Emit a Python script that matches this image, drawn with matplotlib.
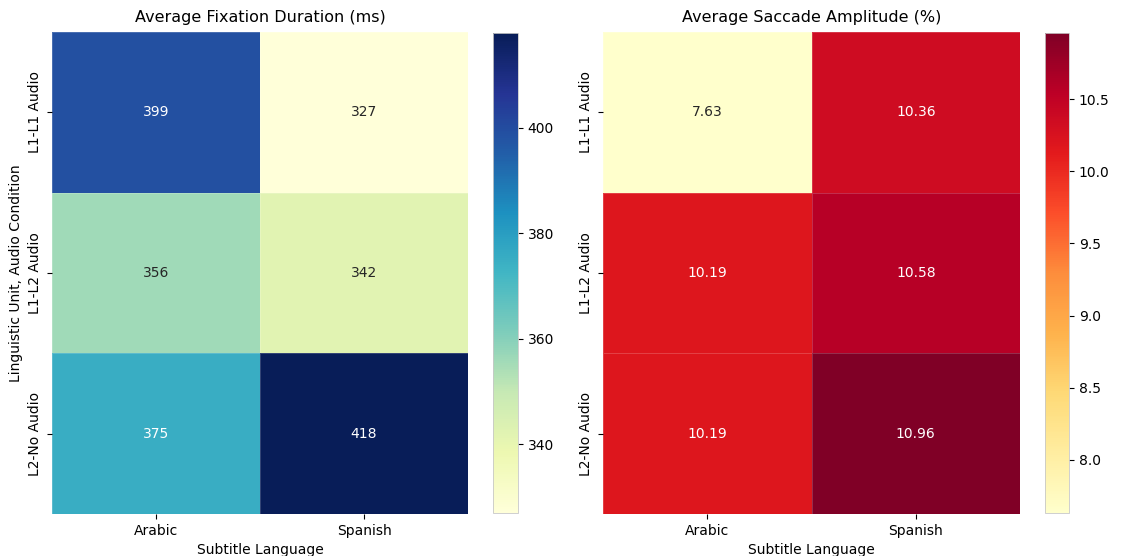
import matplotlib
matplotlib.use("Agg")
import matplotlib.pyplot as plt
import numpy as np
import seaborn as sns

subtitle_languages = ["Arabic", "Spanish"]
conditions = ["L1-L1 Audio", "L1-L2 Audio", "L2-No Audio"]
fixation_duration = [[399, 327],
                     [356, 342],
                     [375, 418]]
saccade_amplitude = [[7.63, 10.36],
                     [10.19, 10.58],
                     [10.19, 10.96]]

W, H = 1123, 556
fig = plt.figure(figsize=(W / 100, H / 100), dpi=100)

def box(x0, x1, y0, y1):
    return [x0 / W, 1 - y1 / H, (x1 - x0) / W, (y1 - y0) / H]

ax1 = fig.add_axes(box(52, 468, 32, 514))
cax1 = fig.add_axes(box(493, 518, 33, 513))
ax2 = fig.add_axes(box(603, 1020, 32, 514))
cax2 = fig.add_axes(box(1045, 1069, 33, 513))

sns.heatmap(np.array(fixation_duration), ax=ax1, cbar_ax=cax1, cmap="YlGnBu",
            annot=True, fmt=".0f", annot_kws={"fontsize": 10},
            linewidths=0.4, linecolor=(1, 1, 1, 0.18),
            xticklabels=subtitle_languages, yticklabels=conditions)
ax1.set_title("Average Fixation Duration (ms)", fontsize=11.5, pad=7)
ax1.set_xlabel("Subtitle Language", fontsize=10)
ax1.set_ylabel("Linguistic Unit, Audio Condition", fontsize=10)

sns.heatmap(np.array(saccade_amplitude), ax=ax2, cbar_ax=cax2, cmap="YlOrRd",
            annot=True, fmt=".2f", annot_kws={"fontsize": 10},
            linewidths=0.4, linecolor=(1, 1, 1, 0.18),
            xticklabels=subtitle_languages, yticklabels=conditions)
ax2.set_title("Average Saccade Amplitude (%)", fontsize=11.5, pad=7)
ax2.set_xlabel("Subtitle Language", fontsize=10)
ax2.set_ylabel("")

for ax in (ax1, ax2):
    ax.tick_params(labelsize=10)
    plt.setp(ax.get_yticklabels(), rotation=90, va="center")
    plt.setp(ax.get_xticklabels(), rotation=0)
for ax in (ax1, ax2):
    cb = ax.collections[0].colorbar
    cb.outline.set_visible(True)
    cb.outline.set_edgecolor("#c8c8c8")
    cb.outline.set_linewidth(0.6)
for cax in (cax1, cax2):
    cax.tick_params(labelsize=10)

fig.savefig("out.png", dpi=100)
